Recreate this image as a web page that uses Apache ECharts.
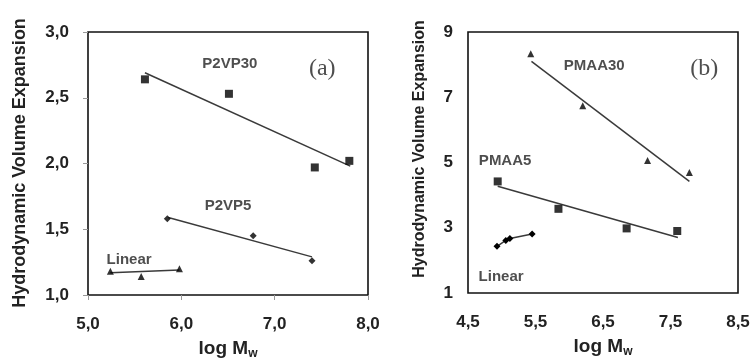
<!DOCTYPE html>
<html><head><meta charset="utf-8">
<script src="https://cdn.jsdelivr.net/npm/echarts@6/dist/echarts.min.js"></script>
<style>html,body{margin:0;padding:0;background:#fff}#c{width:752px;height:358px}</style>
</head><body><div id="c"></div>
<script>
// Panel (a)
const aXTicks = [5.0, 6.0, 7.0, 8.0];
const aYTicks = [1.0, 1.5, 2.0, 2.5, 3.0];
const p2vp30X = [5.61, 6.51, 7.43, 7.80];
const p2vp30Y = [2.64, 2.53, 1.97, 2.02];
const p2vp30FitX = [5.61, 7.81];
const p2vp30FitY = [2.69, 1.98];
const p2vp5X = [5.85, 6.77, 7.40];
const p2vp5Y = [1.58, 1.45, 1.26];
const p2vp5FitX = [5.86, 7.40];
const p2vp5FitY = [1.59, 1.29];
const linAX = [5.24, 5.57, 5.98];
const linAY = [1.18, 1.14, 1.20];
const linAFitX = [5.24, 5.98];
const linAFitY = [1.17, 1.19];
// Panel (b)
const bXTicks = [4.5, 5.5, 6.5, 7.5, 8.5];
const bYTicks = [1, 3, 5, 7, 9];
const pmaa30X = [5.43, 6.20, 7.16, 7.78];
const pmaa30Y = [8.33, 6.74, 5.06, 4.69];
const pmaa30FitX = [5.44, 7.78];
const pmaa30FitY = [8.10, 4.42];
const pmaa5X = [4.94, 5.84, 6.85, 7.60];
const pmaa5Y = [4.42, 3.58, 2.98, 2.90];
const pmaa5FitX = [4.94, 7.61];
const pmaa5FitY = [4.27, 2.70];
const linBX = [4.93, 5.06, 5.12, 5.45];
const linBY = [2.43, 2.61, 2.67, 2.81];
// annotations: [text, x, y]
const aNotes = [['P2VP30', 6.52, 2.76], ['P2VP5', 6.50, 1.68], ['Linear', 5.44, 1.27]];
const aTag = ['(a)', 7.51, 2.72];
const bNotes = [['PMAA30', 6.37, 7.97], ['PMAA5', 5.05, 5.05], ['Linear', 4.99, 1.49]];
const bTag = ['(b)', 8.00, 7.88];

const zip = (xs, ys) => xs.map((x, i) => [x, ys[i]]);
const comma = d => v => v.toFixed(d).replace('.', ',');
const FONT = 'Liberation Sans';
const lineCol = '#3a3a3a';

function pts(name, xs, ys, sym, size, gi) {
  return {type: 'scatter', name, xAxisIndex: gi, yAxisIndex: gi, data: zip(xs, ys),
    symbol: sym, symbolSize: size, itemStyle: {color: '#000'}, z: 3, silent: true};
}
function fit(xs, ys, gi, withSym) {
  return {type: 'line', xAxisIndex: gi, yAxisIndex: gi, data: zip(xs, ys),
    symbol: withSym ? 'diamond' : 'none', symbolSize: 7, showSymbol: !!withSym,
    itemStyle: {color: '#000'},
    lineStyle: {color: lineCol, width: 1.5}, z: 2, silent: true, animation: false};
}
function notes(list, gi, size) {
  return {type: 'scatter', xAxisIndex: gi, yAxisIndex: gi, symbolSize: 0, silent: true,
    data: list.map(n => ({value: [n[1], n[2]], name: n[0]})),
    label: {show: true, position: 'inside', formatter: p => p.name,
      fontFamily: FONT, fontWeight: 'bold', fontSize: size, color: '#222'}};
}
function tag(t, gi) {
  return {type: 'scatter', xAxisIndex: gi, yAxisIndex: gi, symbolSize: 0, silent: true,
    data: [{value: [t[1], t[2]], name: t[0]}],
    label: {show: true, position: 'inside', formatter: p => p.name,
      fontFamily: 'Liberation Serif', fontSize: 24, color: '#222'}};
}

const xName = {
  name: 'log M{s|w}', nameLocation: 'middle',
  nameTextStyle: {fontFamily: FONT, fontWeight: 'bold', fontSize: 19, color: '#222',
    rich: {s: {fontFamily: FONT, fontWeight: 'bold', fontSize: 12, color: '#222', padding: [10, 0, 0, 0]}}}
};

const chart = echarts.init(document.getElementById('c'), null, {renderer: 'canvas'});
chart.setOption({
  animation: false,
  backgroundColor: '#fff',
  grid: [
    {left: 88, top: 32, width: 280, height: 263, show: true, borderColor: '#111', borderWidth: 1.6,
      containLabel: false, outerBoundsMode: 'none'},
    {left: 468, top: 32, width: 270, height: 261, show: true, borderColor: '#111', borderWidth: 1.6,
      containLabel: false, outerBoundsMode: 'none'}
  ],
  xAxis: [
    Object.assign({}, xName, {gridIndex: 0, type: 'value', min: aXTicks[0], max: aXTicks[aXTicks.length - 1], interval: 1,
      nameGap: 43, axisLine: {show: false}, splitLine: {show: false},
      axisTick: {show: true, length: 5, lineStyle: {color: '#999'}},
      axisLabel: {formatter: comma(1), fontFamily: FONT, fontWeight: 'bold', fontSize: 17, color: '#222', margin: 21}}),
    Object.assign({}, xName, {gridIndex: 1, type: 'value', min: bXTicks[0], max: bXTicks[bXTicks.length - 1], interval: 1,
      nameGap: 43, axisLine: {show: false}, splitLine: {show: false}, axisTick: {show: false},
      axisLabel: {formatter: comma(1), fontFamily: FONT, fontWeight: 'bold', fontSize: 17, color: '#222', margin: 21}})
  ],
  yAxis: [
    {gridIndex: 0, type: 'value', min: aYTicks[0], max: aYTicks[aYTicks.length - 1], interval: 0.5,
      axisLine: {show: false}, splitLine: {show: false},
      axisTick: {show: true, length: 5, lineStyle: {color: '#999'}},
      axisLabel: {formatter: comma(1), fontFamily: FONT, fontWeight: 'bold', fontSize: 17, color: '#222', margin: 19}},
    {gridIndex: 1, type: 'value', min: bYTicks[0], max: bYTicks[bYTicks.length - 1], interval: 2,
      axisLine: {show: false}, splitLine: {show: false}, axisTick: {show: false},
      axisLabel: {formatter: v => String(v), fontFamily: FONT, fontWeight: 'bold', fontSize: 17, color: '#222', margin: 15}}
  ],
  graphic: [
    {type: 'text', x: 20, y: 163, rotation: Math.PI / 2,
      style: {text: 'Hydrodynamic Volume Expansion', fontFamily: FONT, fontWeight: 'bold', fontSize: 18,
        fill: '#222', align: 'center', verticalAlign: 'middle'}},
    {type: 'text', x: 420, y: 149, rotation: Math.PI / 2,
      style: {text: 'Hydrodynamic Volume Expansion', fontFamily: FONT, fontWeight: 'bold', fontSize: 16,
        fill: '#222', align: 'center', verticalAlign: 'middle'}}
  ],
  series: [
    fit(p2vp30FitX, p2vp30FitY, 0), pts('P2VP30', p2vp30X, p2vp30Y, 'rect', 8, 0),
    fit(p2vp5FitX, p2vp5FitY, 0), pts('P2VP5', p2vp5X, p2vp5Y, 'diamond', 7, 0),
    fit(linAFitX, linAFitY, 0), pts('LinearA', linAX, linAY, 'triangle', 7, 0),
    notes(aNotes, 0, 15), tag(aTag, 0),
    fit(pmaa30FitX, pmaa30FitY, 1), pts('PMAA30', pmaa30X, pmaa30Y, 'triangle', 7, 1),
    fit(pmaa5FitX, pmaa5FitY, 1), pts('PMAA5', pmaa5X, pmaa5Y, 'rect', 8, 1),
    fit(linBX, linBY, 1, true),
    notes(bNotes, 1, 15), tag(bTag, 1)
  ]
});
</script>
</body></html>
